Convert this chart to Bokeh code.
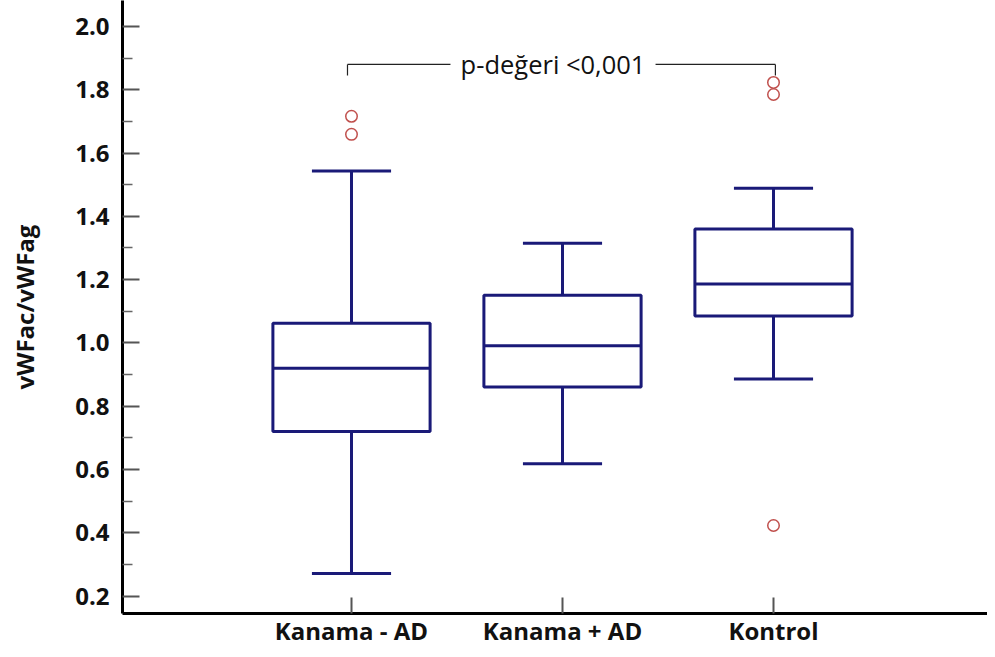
from bokeh.plotting import figure
from bokeh.models import FixedTicker, Range1d, ColumnDataSource
from bokeh.core.properties import value
from bokeh.embed import file_html
from bokeh.resources import INLINE

# ---- data ----
groups = ["Kanama - AD", "Kanama + AD", "Kontrol"]
q1 = [0.720, 0.861, 1.085]
median = [0.920, 0.991, 1.186]
q3 = [1.062, 1.151, 1.360]
whisker_low = [0.271, 0.618, 0.886]
whisker_high = [1.543, 1.315, 1.489]
outlier_group = [1, 1, 3, 3, 3]
outlier_value = [1.716, 1.659, 1.823, 1.785, 0.423]
y_ticks = [0.2, 0.4, 0.6, 0.8, 1.0, 1.2, 1.4, 1.6, 1.8, 2.0]
y_minor = [0.3, 0.5, 0.7, 0.9, 1.1, 1.3, 1.5, 1.7, 1.9]
p_text = "p-değeri <0,001"
bracket_level = 1.880
bracket_drop = 0.035

xs = [i + 1 for i in range(len(groups))]
box_w = 0.745
cap_w = 0.375
NAVY = "#1a1a78"
RED = "#c0504d"
FONT = "Open Sans"

p = figure(width=987, height=649, output_backend="svg", toolbar_location=None,
           x_range=Range1d(-0.0853, 4.0142), y_range=Range1d(0.145, 2.082),
           min_border_left=122, min_border_right=0, min_border_top=0, min_border_bottom=35)
p.outline_line_color = None
p.xgrid.visible = False
p.ygrid.visible = False
p.background_fill_color = "white"
p.border_fill_color = "white"

src = ColumnDataSource(dict(x=xs, q1=q1, med=median, q3=q3, lo=whisker_low, hi=whisker_high,
                            l=[x - box_w / 2 for x in xs], r=[x + box_w / 2 for x in xs],
                            cl=[x - cap_w / 2 for x in xs], cr=[x + cap_w / 2 for x in xs]))

# whiskers
p.segment(x0="x", y0="q3", x1="x", y1="hi", source=src, line_color=NAVY, line_width=3)
p.segment(x0="x", y0="lo", x1="x", y1="q1", source=src, line_color=NAVY, line_width=3)
p.segment(x0="cl", y0="hi", x1="cr", y1="hi", source=src, line_color=NAVY, line_width=3)
p.segment(x0="cl", y0="lo", x1="cr", y1="lo", source=src, line_color=NAVY, line_width=3)
# boxes
p.quad(left="l", right="r", bottom="q1", top="q3", source=src, fill_color="white",
       line_color=NAVY, line_width=3)
p.segment(x0="l", y0="med", x1="r", y1="med", source=src, line_color=NAVY, line_width=3)
# outliers
p.scatter(x=outlier_group, y=outlier_value, marker="circle", size=11.5, fill_color=None,
          line_color=RED, line_width=1.5)

# significance bracket
x_left, x_right = xs[0] - 0.019, xs[2] + 0.009
gap_l, gap_r = 1.469, 2.441
p.segment(x0=[x_left, gap_r, x_left, x_right], y0=[bracket_level] * 4,
          x1=[gap_l, x_right, x_left, x_right],
          y1=[bracket_level, bracket_level, bracket_level - bracket_drop, bracket_level - bracket_drop],
          line_color="#222222", line_width=1.2)
p.text(x=[(gap_l + gap_r) / 2], y=[bracket_level], text=[p_text], text_align="center",
       text_baseline="middle", text_font=value(FONT), text_font_size="25.5px", text_color="#111111")

# axes
for ax in (p.xaxis, p.yaxis):
    ax.axis_line_color = "black"
    ax.axis_line_width = 3
    ax.major_tick_line_color = "#555555"
    ax.major_tick_line_width = 2
    ax.minor_tick_line_color = "#666666"
    ax.minor_tick_line_width = 1.5
    ax.major_label_text_font = FONT
    ax.major_label_text_font_style = "bold"
    ax.major_label_text_font_size = "24px"
    ax.major_label_text_color = "#111111"

p.yaxis.ticker = FixedTicker(ticks=y_ticks, minor_ticks=y_minor)
p.yaxis.major_label_overrides = {t: f"{t:.1f}" for t in y_ticks}
p.yaxis.major_tick_in = 17
p.yaxis.major_tick_out = 0
p.yaxis.minor_tick_in = 10
p.yaxis.minor_tick_out = 0
p.yaxis.major_label_standoff = 13
p.yaxis.axis_label = "vWFac/vWFag"
p.yaxis.axis_label_text_font = FONT
p.yaxis.axis_label_text_font_style = "bold"
p.yaxis.axis_label_text_font_size = "24px"
p.yaxis.axis_label_text_color = "#111111"
p.yaxis.axis_label_standoff = 31

p.xaxis.ticker = FixedTicker(ticks=xs, minor_ticks=[])
p.xaxis.major_label_overrides = {x: g for x, g in zip(xs, groups)}
p.xaxis.major_tick_in = 16
p.xaxis.major_tick_out = 0
p.xaxis.minor_tick_in = 0
p.xaxis.minor_tick_out = 0
p.xaxis.major_label_standoff = 0

open("out.html", "w").write(file_html(p, INLINE))
